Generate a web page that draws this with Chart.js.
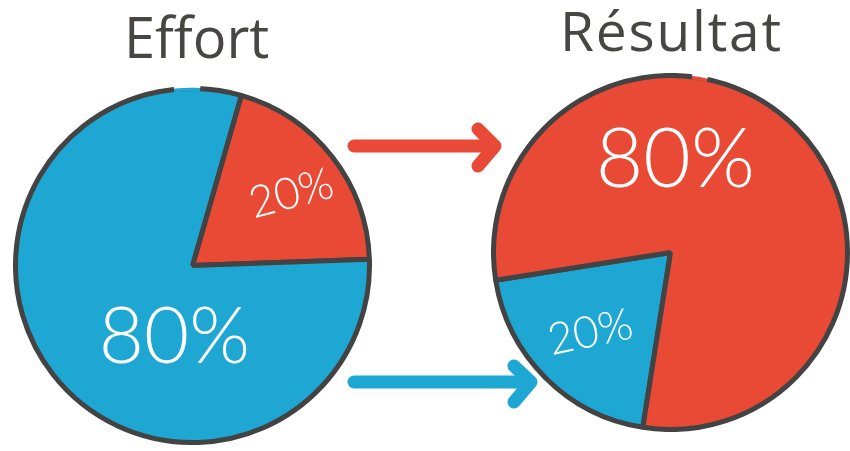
<!DOCTYPE html>
<html>
<head>
<meta charset="utf-8">
<script src="https://cdn.jsdelivr.net/npm/chart.js@4"></script>
<style>
  html, body { margin: 0; padding: 0; background: #ffffff; }
  body { width: 850px; height: 451px; position: relative; overflow: hidden; }
  .title { position: absolute; font-family: "Open Sans", sans-serif; color: #474643; white-space: nowrap; line-height: 1; }
  #t1 { left: 124px; top: 8px; font-size: 56px; }
  #t2 { left: 560px; top: 2px; font-size: 55px; letter-spacing: 1.8px; }
  canvas { position: absolute; }
  #c1 { left: 13px; top: 86px; }
  #c2 { left: 491px; top: 73px; }
  svg { position: absolute; left: 0; top: 0; }
</style>
</head>
<body>
<script>
// ---- data ----
const categories = ['Effort', 'Résultat'];
const effortSegments = ['Effort (20%)', 'Effort (80%)'];
const effortValues = [20, 80];
const resultatSegments = ['Résultat (20%)', 'Résultat (80%)'];
const resultatValues = [20, 80];
</script>

<div class="title" id="t1"></div>
<div class="title" id="t2"></div>

<svg width="850" height="451">
  <g fill="none" stroke-linecap="round" stroke-linejoin="round" stroke-width="13">
    <g stroke="#e84a37">
      <line x1="354" y1="146" x2="494" y2="146"/>
      <polyline points="478,129 495,146 478,166"/>
    </g>
    <g stroke="#1ea7d3">
      <line x1="354" y1="382" x2="530" y2="382"/>
      <polyline points="514,366 531,382 514,402"/>
    </g>
  </g>
</svg>

<canvas id="c1" width="359" height="359"></canvas>
<canvas id="c2" width="359" height="359"></canvas>

<script>
document.getElementById('t1').textContent = categories[0];
document.getElementById('t2').textContent = categories[1];

const BLUE = '#1ea7d3';
const RED = '#e94a35';
const DARK = '#434343';

// draws the hand-written percentages and the small break in the outer rim
const handLabels = {
  id: 'handLabels',
  afterDatasetsDraw(chart, args, opts) {
    const ctx = chart.ctx;
    const meta = chart.getDatasetMeta(0);
    const arc0 = meta.data[0];
    const cx = arc0.x, cy = arc0.y, R = arc0.outerRadius;
    const values = chart.data.datasets[0].data;
    const total = values.reduce((a, b) => a + b, 0);

    // rim gap
    if (opts.gap) {
      const a0 = (opts.gap[0] - 90) * Math.PI / 180;
      const a1 = (opts.gap[1] - 90) * Math.PI / 180;
      ctx.save();
      ctx.lineCap = 'butt';
      ctx.strokeStyle = opts.gapColor;
      ctx.lineWidth = 3.5;
      ctx.beginPath(); ctx.arc(cx, cy, R - 1, a0, a1); ctx.stroke();
      ctx.strokeStyle = '#ffffff';
      ctx.lineWidth = 3.5;
      ctx.beginPath(); ctx.arc(cx, cy, R + 2.5, a0, a1); ctx.stroke();
      ctx.restore();
    }

    values.forEach((v, i) => {
      const p = opts.place[i];
      const ang = (p.angle - 90) * Math.PI / 180;
      const x = cx + Math.cos(ang) * p.dist * R;
      const y = cy + Math.sin(ang) * p.dist * R;
      ctx.save();
      ctx.translate(x, y);
      ctx.rotate(p.rot * Math.PI / 180);
      ctx.font = p.weight + ' ' + p.size + 'px Lato, "DejaVu Sans", sans-serif';
      ctx.fillStyle = '#ffffff';
      ctx.textAlign = 'center';
      ctx.textBaseline = 'middle';
      ctx.fillText(Math.round(v / total * 100) + '%', 0, 0);
      ctx.restore();
    });
  }
};

function pieOptions(rotation, place, gap, gapColor) {
  return {
    responsive: false,
    animation: false,
    rotation: rotation,
    layout: { padding: 0 },
    events: [],
    plugins: {
      legend: { display: false },
      tooltip: { enabled: false },
      handLabels: { place: place, gap: gap, gapColor: gapColor }
    }
  };
}

new Chart(document.getElementById('c1'), {
  type: 'pie',
  data: {
    labels: effortSegments,
    datasets: [{
      data: effortValues,
      backgroundColor: [RED, BLUE],
      borderColor: DARK,
      borderWidth: 5,
      hoverOffset: 0,
      offset: 0
    }]
  },
  options: pieOptions(16, [
    { angle: 54, dist: 0.69, size: 44, rot: -15, weight: 300 },
    { angle: 194, dist: 0.42, size: 78, rot: 0, weight: 300 }
  ], [-6, 2.5], BLUE),
  plugins: [handLabels]
});

new Chart(document.getElementById('c2'), {
  type: 'pie',
  data: {
    labels: resultatSegments,
    datasets: [{
      data: resultatValues,
      backgroundColor: [BLUE, RED],
      borderColor: DARK,
      borderWidth: 5,
      hoverOffset: 0,
      offset: 0
    }]
  },
  options: pieOptions(189, [
    { angle: 225, dist: 0.64, size: 44, rot: -12, weight: 300 },
    { angle: 3, dist: 0.52, size: 82, rot: 0, weight: 300 }
  ], [7, 12], RED),
  plugins: [handLabels]
});
</script>
</body>
</html>
